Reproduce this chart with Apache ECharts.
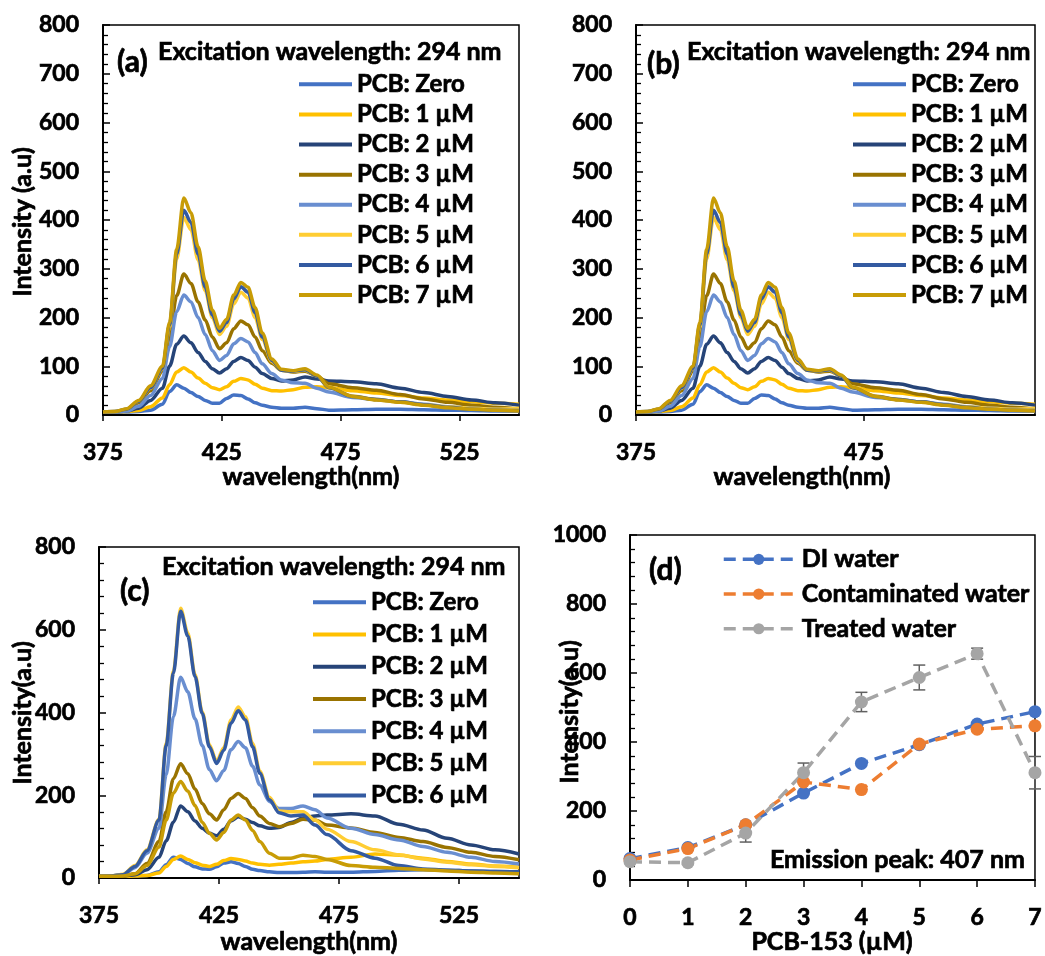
<!DOCTYPE html>
<html>
<head>
<meta charset="utf-8">
<script src="https://cdn.jsdelivr.net/npm/echarts@6/dist/echarts.min.js"></script>
<style>
  html, body { margin: 0; padding: 0; background: #fff; }
  #chart { width: 1045px; height: 956px; }
</style>
</head>
<body>
<div id="chart"></div>
<script>
// Emission wavelengths (nm) shared by every spectrum
const wavelengths = [375, 380, 385, 390, 395, 400, 403, 406, 409, 412, 415, 418, 421, 424, 427, 430, 433, 436, 439, 442, 446, 450, 455, 460, 465, 470, 480, 490, 500, 510, 520, 530, 540, 550];

// Spectra shown in panels (a) and (b)
const specA_zero = [6, 6, 6, 7, 10, 22, 48, 62, 55, 46, 38, 30, 24, 24, 34, 41, 40, 33, 25, 20, 16, 14, 14, 16, 13, 10, 11, 12, 12, 11, 10, 9, 8, 8];
const specA_1 = [6, 6, 7, 9, 17, 35, 62, 88, 97, 88, 76, 65, 56, 52, 58, 69, 75, 72, 63, 55, 50, 49, 52, 57, 58, 56, 50, 45, 40, 35, 31, 27, 24, 22];
const specA_2 = [6, 6, 8, 14, 30, 55, 100, 145, 162, 148, 128, 110, 95, 86, 95, 110, 118, 112, 98, 85, 75, 70, 72, 78, 74, 70, 68, 64, 55, 46, 38, 31, 25, 20];
const specA_3 = [6, 6, 10, 25, 50, 90, 160, 245, 289, 270, 232, 195, 160, 136, 148, 177, 193, 185, 160, 132, 106, 92, 88, 90, 80, 64, 56, 51, 42, 33, 26, 20, 16, 12];
const specA_4 = [6, 6, 8, 18, 40, 75, 140, 212, 246, 232, 200, 165, 132, 112, 122, 146, 157, 150, 128, 105, 85, 72, 66, 65, 55, 47, 36, 32, 27, 22, 17, 14, 12, 10];
const specA_5 = [6, 7, 12, 28, 55, 95, 180, 320, 405, 380, 318, 255, 200, 165, 182, 228, 252, 240, 200, 155, 110, 92, 90, 92, 80, 57, 39, 32, 26, 21, 17, 14, 12, 14];
const specA_6 = [6, 7, 12, 28, 56, 96, 185, 330, 420, 395, 330, 262, 205, 172, 190, 238, 263, 252, 210, 160, 112, 92, 90, 93, 80, 56, 38, 32, 27, 21, 16, 12, 10, 9];
const specA_7 = [6, 7, 13, 30, 60, 100, 190, 340, 445, 415, 345, 275, 215, 178, 196, 246, 272, 262, 220, 168, 115, 94, 91, 95, 82, 57, 38, 31, 26, 20, 15, 12, 10, 8];

// Spectra shown in panel (c)
const specC_zero = [4, 4, 4, 5, 6, 15, 32, 50, 45, 35, 27, 22, 21, 27, 36, 39, 35, 28, 21, 18, 15, 13, 13, 14, 15, 14, 14, 16, 19, 20, 19, 17, 16, 15];
const specC_1 = [4, 4, 4, 5, 6, 12, 28, 45, 53, 45, 37, 31, 28, 33, 42, 47, 45, 41, 36, 33, 31, 33, 36, 39, 41, 45, 50, 58, 55, 48, 40, 34, 29, 26];
const specC_2 = [4, 4, 5, 8, 20, 50, 90, 135, 174, 160, 138, 120, 108, 102, 118, 138, 148, 142, 134, 126, 120, 122, 134, 145, 150, 152, 155, 150, 130, 116, 96, 80, 68, 58];
const specC_3 = [4, 4, 5, 10, 35, 88, 160, 240, 276, 252, 215, 180, 155, 140, 165, 192, 204, 192, 170, 150, 132, 124, 132, 142, 140, 128, 121, 110, 98, 88, 74, 62, 52, 44];
const specC_4 = [4, 5, 8, 25, 60, 120, 250, 390, 485, 450, 385, 320, 262, 235, 260, 310, 330, 315, 270, 225, 185, 168, 168, 174, 165, 145, 120, 105, 92, 76, 62, 50, 40, 34];
const specC_5 = [4, 5, 9, 30, 68, 142, 325, 500, 652, 592, 492, 402, 322, 282, 315, 382, 413, 390, 325, 258, 195, 162, 160, 160, 140, 118, 88, 68, 56, 46, 38, 32, 28, 25];
const specC_6 = [4, 5, 8, 28, 66, 140, 320, 495, 645, 585, 487, 398, 317, 277, 309, 374, 404, 382, 317, 253, 189, 158, 150, 152, 128, 105, 66, 48, 30, 22, 19, 17, 16, 15];
const specC_7 = [4, 4, 5, 10, 30, 75, 140, 205, 233, 210, 175, 135, 108, 92, 110, 140, 152, 140, 115, 88, 60, 48, 48, 55, 52, 45, 30, 26, 23, 20, 17, 14, 12, 10];

const pcbNames = ['PCB: Zero', 'PCB: 1 \u00b5M', 'PCB: 2 \u00b5M', 'PCB: 3 \u00b5M', 'PCB: 4 \u00b5M', 'PCB: 5 \u00b5M', 'PCB: 6 \u00b5M', 'PCB: 7 \u00b5M'];
const pcbColors = ['#4472C4', '#FFC000', '#264478', '#997300', '#698ED0', '#FFCD33', '#335AA1', '#C89C06'];

// Tick labels of the wavelength axes
const ticksAC = [375, 425, 475, 525];
const ticksB = [375, 475];

// Panel (d): peak intensity at 407 nm against PCB-153 concentration
const pcbConc = [0, 1, 2, 3, 4, 5, 6, 7];
const diWater = [62, 94, 160, 252, 338, 392, 452, 488];
const contaminatedWater = [58, 91, 160, 284, 262, 394, 437, 447];
const treatedWater = [53, 50, 136, 311, 516, 587, 656, 311];
const treatedErr = [5, 5, 26, 28, 28, 36, 16, 47];
const waterNames = ['DI water', 'Contaminated water', 'Treated water'];
const waterColors = ['#4472C4', '#ED7D31', '#A5A5A5'];

const FAMILY = 'Lato, "Open Sans", sans-serif';
const BOLD = (px) => 'bold ' + px + 'px ' + FAMILY;
const heavy = { textBorderColor: '#000', textBorderWidth: 0.7 };
const labelStyle = Object.assign({ fontFamily: FAMILY, fontWeight: 'bold', fontSize: 23, color: '#000' }, heavy);

const specA = [specA_zero, specA_1, specA_2, specA_3, specA_4, specA_5, specA_6, specA_7];
const specC = [specC_zero, specC_1, specC_2, specC_3, specC_4, specC_5, specC_6, specC_7];

function wlAxis(gridIndex, ticks) {
  return {
    type: 'value', gridIndex, min: 375, max: 550,
    axisLine: { onZero: false, lineStyle: { color: '#000', width: 2 } },
    axisTick: { show: true, inside: false, length: 6, customValues: ticks, lineStyle: { color: '#000', width: 1.5 } },
    axisLabel: Object.assign({ customValues: ticks, margin: 26 }, labelStyle),
    splitLine: { show: false }
  };
}
function intensityAxis(gridIndex, max, interval) {
  return {
    type: 'value', gridIndex, min: 0, max, interval,
    axisLine: { onZero: false, lineStyle: { color: '#000', width: 2 } },
    axisTick: { show: true, inside: true, length: 7, lineStyle: { color: '#000', width: 1.5 } },
    minorTick: { show: true, splitNumber: 5, length: 5, lineStyle: { color: '#000', width: 1.3 } },
    axisLabel: Object.assign({ margin: 24, formatter: (v) => String(v) }, labelStyle),
    splitLine: { show: false }
  };
}
function spectrumSeries(arrays, axisIndex, count) {
  const out = [];
  for (let k = 0; k < count; k++) {
    out.push({
      type: 'line', name: pcbNames[k], xAxisIndex: axisIndex, yAxisIndex: axisIndex,
      data: wavelengths.map((w, i) => [w, arrays[k][i]]),
      showSymbol: false, symbol: 'none', smooth: 0.3, smoothMonotone: 'x',
      color: pcbColors[k],
      lineStyle: { width: 3.5, color: pcbColors[k] },
      emphasis: { disabled: true }, silent: true
    });
  }
  return out;
}
function spectrumLegend(left, top, gap, names) {
  return {
    orient: 'vertical', left, top, padding: 0, itemGap: gap,
    itemWidth: 53, itemHeight: 4, icon: 'rect', selectedMode: false,
    data: names,
    textStyle: Object.assign({}, labelStyle, { fontSize: 24 })
  };
}
function txt(x, y, text, px, align, rotation) {
  return {
    type: 'text', x, y, rotation: rotation || 0,
    style: {
      text, font: BOLD(px), fill: '#000', stroke: '#000', lineWidth: 0.7,
      textAlign: align || 'left', textVerticalAlign: 'middle'
    }
  };
}

const gridBox = { show: true, borderColor: '#000', borderWidth: 1.5, backgroundColor: 'transparent' };

const option = {
  animation: false,
  backgroundColor: '#fff',
  grid: [
    Object.assign({ left: 103, top: 25, width: 416, height: 390 }, gridBox),
    Object.assign({ left: 636, top: 25, width: 399, height: 390 }, gridBox),
    Object.assign({ left: 99, top: 547, width: 420, height: 331 }, gridBox),
    Object.assign({ left: 630, top: 535, width: 405, height: 345 }, gridBox)
  ],
  xAxis: [
    wlAxis(0, ticksAC),
    wlAxis(1, ticksB),
    wlAxis(2, ticksAC),
    {
      type: 'value', gridIndex: 3, min: 0, max: 7, interval: 1,
      axisLine: { onZero: false, lineStyle: { color: '#000', width: 2 } },
      axisTick: { show: true, inside: false, length: 7, lineStyle: { color: '#000', width: 1.5 } },
      axisLabel: Object.assign({ margin: 26 }, labelStyle),
      splitLine: { show: false }
    }
  ],
  yAxis: [
    intensityAxis(0, 800, 100),
    intensityAxis(1, 800, 100),
    intensityAxis(2, 800, 200),
    intensityAxis(3, 1000, 200)
  ],
  legend: [
    spectrumLegend(299, 72, 5.4, pcbNames),
    spectrumLegend(853, 72, 5.4, pcbNames),
    spectrumLegend(313, 590, 7.5, pcbNames.slice(0, 7)),
    {
      orient: 'vertical', left: 722, top: 546.5, padding: 0, itemGap: 9,
      itemWidth: 70, itemHeight: 14, selectedMode: false,
      lineStyle: { width: 3.5 },
      data: waterNames,
      textStyle: Object.assign({}, labelStyle, { fontSize: 25, padding: [0, 0, 0, 3] })
    }
  ],
  series: [
    ...spectrumSeries(specA, 0, 8),
    ...spectrumSeries(specA, 1, 8),
    ...spectrumSeries(specC, 2, 8),
    {
      type: 'line', name: waterNames[0], xAxisIndex: 3, yAxisIndex: 3,
      data: pcbConc.map((c, i) => [c, diWater[i]]),
      symbol: 'circle', symbolSize: 13, color: waterColors[0],
      itemStyle: { color: waterColors[0] },
      lineStyle: { width: 3.5, type: [12, 7], color: waterColors[0] },
      emphasis: { disabled: true }, silent: true
    },
    {
      type: 'line', name: waterNames[1], xAxisIndex: 3, yAxisIndex: 3,
      data: pcbConc.map((c, i) => [c, contaminatedWater[i]]),
      symbol: 'circle', symbolSize: 13, color: waterColors[1],
      itemStyle: { color: waterColors[1] },
      lineStyle: { width: 3.5, type: [12, 7], color: waterColors[1] },
      emphasis: { disabled: true }, silent: true
    },
    {
      // error bars of the treated-water points
      type: 'custom', xAxisIndex: 3, yAxisIndex: 3, silent: true,
      data: pcbConc.map((c, i) => [c, treatedWater[i] - treatedErr[i], treatedWater[i] + treatedErr[i]]),
      encode: { x: 0, y: [1, 2] },
      renderItem: function (params, api) {
        const x = api.value(0);
        const lo = api.coord([x, api.value(1)]);
        const hi = api.coord([x, api.value(2)]);
        const hw = 6;
        const style = { stroke: '#606060', lineWidth: 1.5, fill: null };
        return {
          type: 'group', children: [
            { type: 'line', shape: { x1: lo[0], y1: lo[1], x2: hi[0], y2: hi[1] }, style },
            { type: 'line', shape: { x1: lo[0] - hw, y1: lo[1], x2: lo[0] + hw, y2: lo[1] }, style },
            { type: 'line', shape: { x1: hi[0] - hw, y1: hi[1], x2: hi[0] + hw, y2: hi[1] }, style }
          ]
        };
      }
    },
    {
      type: 'line', name: waterNames[2], xAxisIndex: 3, yAxisIndex: 3,
      data: pcbConc.map((c, i) => [c, treatedWater[i]]),
      symbol: 'circle', symbolSize: 13, color: waterColors[2],
      itemStyle: { color: waterColors[2] },
      lineStyle: { width: 3.5, type: [12, 7], color: waterColors[2] },
      emphasis: { disabled: true }, silent: true
    }
  ],
  graphic: [
    // panel (a)
    txt(117, 62, '(a)', 30),
    txt(158, 52, 'Excitation wavelength: 294 nm', 25),
    txt(23, 222, 'Intensity (a.u)', 25, 'center', Math.PI / 2),
    txt(311, 477, 'wavelength(nm)', 25, 'center'),
    // panel (b)
    txt(647, 64, '(b)', 30),
    txt(687, 52, 'Excitation wavelength: 294 nm', 25),
    txt(802, 477, 'wavelength(nm)', 25, 'center'),
    // panel (c)
    txt(120, 591, '(c)', 30),
    txt(162, 567, 'Excitation wavelength: 294 nm', 25),
    txt(23, 713, 'Intensity(a.u)', 25, 'center', Math.PI / 2),
    txt(309, 942, 'wavelength(nm)', 25, 'center'),
    // panel (d)
    txt(649, 570, '(d)', 30),
    txt(770, 860, 'Emission peak: 407 nm', 25),
    txt(570, 712, 'Intensity(a.u)', 25, 'center', Math.PI / 2),
    txt(832, 942, 'PCB-153 (\u00b5M)', 25, 'center')
  ]
};

const chart = echarts.init(document.getElementById('chart'), null, { renderer: 'canvas' });
chart.setOption(option);
</script>
</body>
</html>
